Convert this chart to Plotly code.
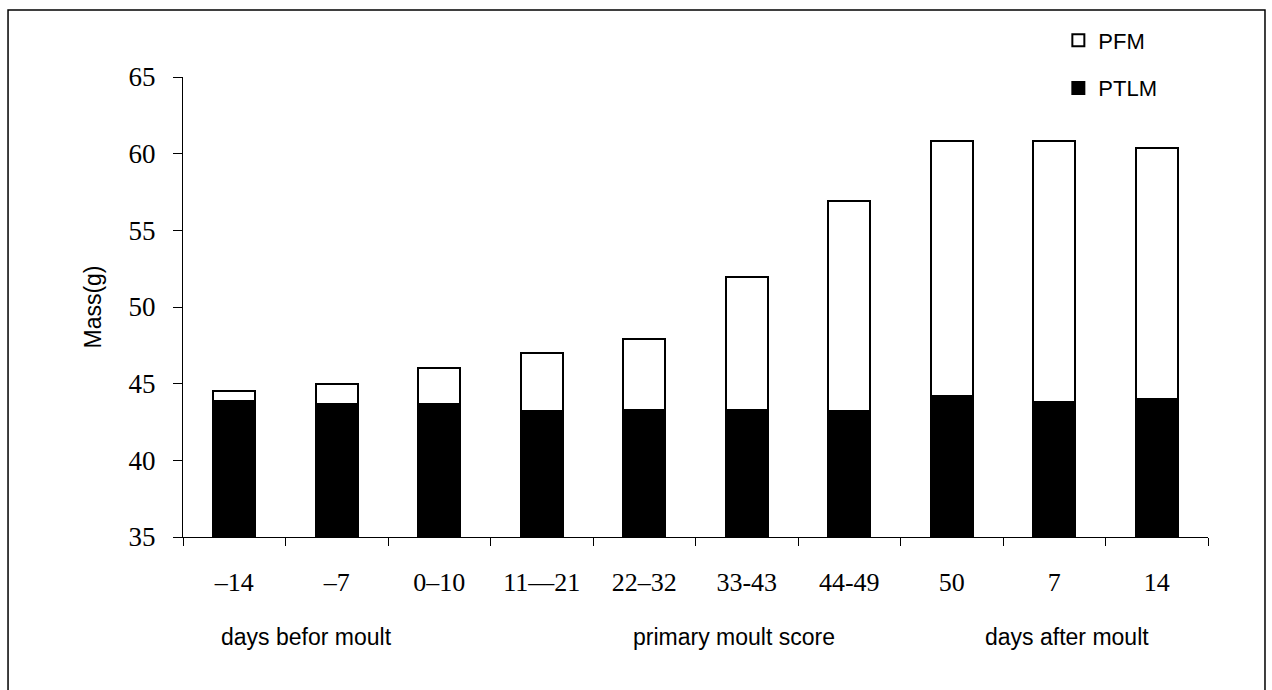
import plotly.graph_objects as go

categories = ["–14", "–7", "0–10", "11—21", "22–32", "33-43", "44-49", "50", "7", "14"]
ptlm = [43.85, 43.70, 43.70, 43.25, 43.30, 43.30, 43.25, 44.20, 43.80, 44.00]
pfm = [0.70, 1.25, 2.30, 3.75, 4.60, 8.65, 13.65, 16.65, 17.05, 16.40]
y_ticks = [35, 40, 45, 50, 55, 60, 65]
group_labels = ["days befor moult", "primary moult score", "days after moult"]
group_label_x = [0.12, 0.5376, 0.8624]

serif = "Liberation Serif, Times New Roman, serif"
sans = "Liberation Sans, Arial, sans-serif"

fig = go.Figure()
fig.add_trace(go.Bar(
    x=categories, y=ptlm, name="PTLM", legendgroup="a", legendrank=2,
    marker=dict(color="black", line=dict(color="black", width=2)),
))
fig.add_trace(go.Bar(
    x=categories, y=pfm, name="PFM", legendgroup="b", legendrank=1,
    marker=dict(color="white", line=dict(color="black", width=2)),
))

for txt, gx in zip(group_labels, group_label_x):
    fig.add_annotation(text=txt, xref="paper", yref="paper", x=gx, y=-0.217,
                       showarrow=False, font=dict(family=sans, size=23, color="black"),
                       xanchor="center", yanchor="middle")

# outer frame (left, top, right)
fig.add_shape(type="path", xref="paper", yref="paper",
              path="M -0.1707,-0.40 L -0.1707,1.1457 L 1.0556,1.1457 L 1.0556,-0.40",
              line=dict(color="black", width=1.5))

fig.update_layout(
    width=1272, height=690,
    margin=dict(l=183, r=64, t=77, b=153),
    paper_bgcolor="white", plot_bgcolor="white",
    barmode="stack", bargap=0.59,
    showlegend=True,
    legend=dict(x=0.854, y=1.125, xanchor="left", yanchor="top",
                traceorder="grouped", tracegroupgap=16,
                font=dict(family=sans, size=22, color="black"),
                bgcolor="rgba(0,0,0,0)"),
    xaxis=dict(type="category", showline=True, linecolor="black", linewidth=1,
               ticks="outside", tickson="boundaries", ticklen=8, tickcolor="black",
               tickfont=dict(family=serif, size=26, color="black"),
               ticklabelstandoff=22, showgrid=False, zeroline=False),
    yaxis=dict(range=[35, 65], tickvals=y_ticks, showline=True, linecolor="black",
               linewidth=1, ticks="outside", ticklen=9, tickcolor="black",
               tickfont=dict(family=serif, size=27, color="black"),
               ticklabelstandoff=12, showgrid=False, zeroline=False,
               title=dict(text="Mass(g)", font=dict(family=sans, size=23, color="black"),
                          standoff=20)),
)

fig.write_html("out.html", config={"displayModeBar": False},
               post_script="document.body.style.margin='0';")
